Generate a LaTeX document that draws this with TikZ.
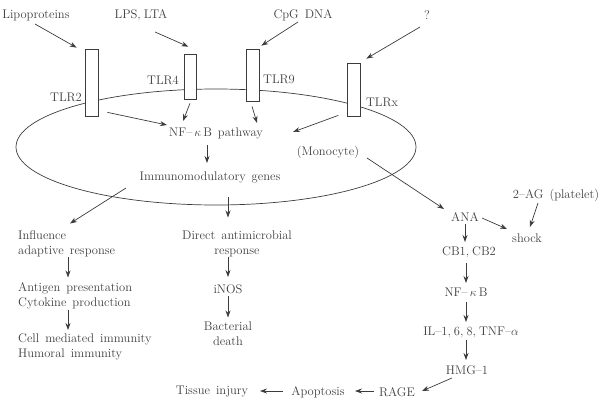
\documentclass[tikz,border=0pt]{standalone}
\usetikzlibrary{arrows.meta}
\definecolor{txt}{HTML}{404040}
\definecolor{ln}{HTML}{3C3C3C}
\newcommand\lblfont{\fontsize{12.5}{15}\selectfont\spaceskip 6pt plus 1pt\relax}
\newcommand\tsp{\hspace{3pt}}
\tikzset{
  lbl/.style={inner sep=1pt, text=txt, font=\lblfont},
  rec/.style={draw=ln, fill=white, line width=0.7pt, inner sep=0pt},
  arr/.style={draw=ln, line width=0.7pt, -{Stealth[length=7pt,width=5pt]}},
}
\begin{document}
\begin{tikzpicture}[x=1pt,y=-1pt]
\useasboundingbox (0,0) rectangle (603,400);
% cell
\draw[ln, line width=0.7pt] (216,147) ellipse [x radius=200pt, y radius=58pt];
% receptors
\node[rec, minimum width=13pt, minimum height=67pt] (tlr2) at (91.5,82.5) {};
\node[rec, minimum width=12pt, minimum height=45pt] (tlr4) at (190,76.5) {};
\node[rec, minimum width=13pt, minimum height=52pt] (tlr9) at (252.5,75) {};
\node[rec, minimum width=13pt, minimum height=53pt] (tlrx) at (353.5,89.5) {};
\node[lbl] (l2) at (66,97) {TLR2};
\node[lbl] (l4) at (163,80) {TLR4};
\node[lbl] (l9) at (279,79) {TLR9};
\node[lbl] (lx) at (382,102) {TLRx};
% ligands
\node[lbl] (lip) at (36,15) {Lipoproteins};
\node[lbl] (lps) at (141,15) {LPS,\tsp LTA};
\node[lbl] (cpg) at (303,15) {CpG DNA};
\node[lbl] (q) at (427,15) {?};
% inside cell
\node[lbl] (nfp) at (216,133) {NF--\,$\kappa$\,B pathway};
\node[lbl] (imm) at (210,177) {Immunomodulatory genes};
\node[lbl] (mono) at (328,152) {(Monocyte)};
% left branches
\node[lbl, anchor=west, align=left] (infl) at (17,243.5) {Influence\\adaptive response};
\node[lbl, anchor=west, align=left] (anti) at (17,295.5) {Antigen presentation\\Cytokine production};
\node[lbl, anchor=west, align=left] (cell) at (17,347) {Cell mediated immunity\\Humoral immunity};
\node[lbl, align=center] (direct) at (237,243.5) {Direct antimicrobial\\response};
\node[lbl] (inos) at (228,289) {iNOS};
\node[lbl, align=center] (bact) at (228,333.5) {Bacterial\\death};
% right branch
\node[lbl] (twoag) at (556,195) {2--AG (platelet)};
\node[lbl] (ana) at (465,217) {ANA};
\node[lbl] (shock) at (527,238) {shock};
\node[lbl] (cb) at (469,252) {CB1,\tsp CB2};
\node[lbl] (nfkb) at (466,292) {NF--\,$\kappa$\,B};
\node[lbl] (il) at (471,332) {IL--1,\tsp 6,\tsp 8,\tsp TNF--$\alpha$};
\node[lbl] (hmg) at (467,370) {HMG--1};
\node[lbl] (rage) at (397,392) {RAGE};
\node[lbl] (apo) at (318,392) {Apoptosis};
\node[lbl] (tis) at (212,392) {Tissue injury};
% arrows: ligands to receptors
\draw[arr] ([shift={(-1,9)}]lip.center) -- ([shift={(-8,-1)}]tlr2.north west);
\draw[arr] ([shift={(14,17)}]lps.center) -- ([shift={(-8,-7)}]tlr4.north east);
\draw[arr] ([shift={(-5,7)}]cpg.center) -- ([shift={(2,-3)}]tlr9.north east);
\draw[arr] ([shift={(-7,12)}]q.center) -- ([shift={(6,-4)}]tlrx.north east);
% receptors to pathway
\draw[arr] ([shift={(9,-4)}]tlr2.south east) -- ([shift={(-49,-8)}]nfp.center);
\draw[arr] ([shift={(0,4)}]tlr4.south) -- ([shift={(-33,-12)}]nfp.center);
\draw[arr] ([shift={(-0.5,5)}]tlr9.south) -- ([shift={(41,-10)}]nfp.center);
\draw[arr] ([shift={(-22,-1)}]tlrx.south east) -- ([shift={(77,-1)}]nfp.center);
\draw[arr] ([shift={(-9,12)}]nfp.center) -- ([shift={(-3,-14)}]imm.center);
\draw[arr] ([shift={(39,6)}]mono.center) -- ([shift={(-21,-8)}]ana.center);
\draw[arr] ([shift={(-84,11)}]imm.center) -- ([shift={(53,-20)}]infl.west);
\draw[arr] ([shift={(18,20)}]imm.center) -- ([shift={(-9,-26)}]direct.center);
\draw[arr] ([shift={(51,13)}]infl.west) -- ([shift={(51,-18)}]anti.west);
\draw[arr] ([shift={(51,14)}]anti.west) -- ([shift={(51,-17)}]cell.west);
\draw[arr] ([shift={(-9,13)}]direct.center) -- ([shift={(0,-12)}]inos.center);
\draw[arr] ([shift={(0,7)}]inos.center) -- ([shift={(0,-16)}]bact.center);
% right chain
\draw[arr] ([shift={(17,1)}]ana.center) -- ([shift={(-20,-9)}]shock.center);
\draw[arr] ([shift={(-18,8)}]twoag.center) -- ([shift={(3,-11)}]shock.center);
\draw[arr] ([shift={(0,7)}]ana.center) -- ([shift={(-4,-10)}]cb.center);
\draw[arr] ([shift={(-3,11)}]cb.center) -- ([shift={(0,-9)}]nfkb.center);
\draw[arr] ([shift={(0,10)}]nfkb.center) -- ([shift={(-5,-10)}]il.center);
\draw[arr] ([shift={(-5,8)}]il.center) -- ([shift={(-1,-10)}]hmg.center);
\draw[arr] ([shift={(-15,8)}]hmg.center) -- ([shift={(25,-1)}]rage.center);
\draw[arr] ([shift={(-23,-1)}]rage.center) -- ([shift={(37,-1)}]apo.center);
\draw[arr] ([shift={(-35,-1)}]apo.center) -- ([shift={(48,-1)}]tis.center);
\end{tikzpicture}
\end{document}
